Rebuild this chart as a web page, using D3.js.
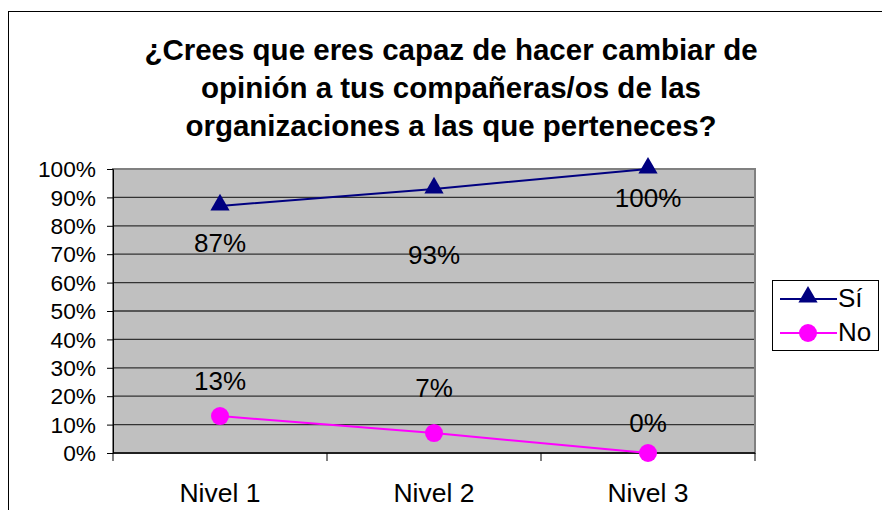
<!DOCTYPE html>
<html><head><meta charset="utf-8">
<script src="https://cdn.jsdelivr.net/npm/d3@7"></script>
<style>body{margin:0;background:#fff}svg{display:block;font-family:"Liberation Sans",Arial,sans-serif}</style>
</head><body><svg id="c" width="882" height="510"></svg>
<script>
const titleLines = ["¿Crees que eres capaz de hacer cambiar de","opinión a tus compañeras/os de las","organizaciones a las que perteneces?"];
const categories = ["Nivel 1","Nivel 2","Nivel 3"];
const siValues = [87, 93, 100];
const noValues = [13, 7, 0];
const yTicks = [0,10,20,30,40,50,60,70,80,90,100];
const seriesNames = ["Sí","No"];

const svg = d3.select("#c");
const L=113, R=755, T=169, B=453;
const FONT = "Liberation Sans, Arial, sans-serif";
// outer border
svg.append("rect").attr("x",8.5).attr("y",11.5).attr("width",900).attr("height",520).attr("fill","#fff").attr("stroke","#000").attr("stroke-width",1);

const x = d3.scaleBand().domain(categories).range([L,R]);
const y = d3.scaleLinear().domain([0,100]).range([B,T]);

// plot area
svg.append("rect").attr("x",L).attr("y",T).attr("width",R-L).attr("height",B-T).attr("fill","#C0C0C0");
svg.append("g").selectAll("line").data(yTicks.filter(d=>d>0)).join("line")
  .attr("x1",L).attr("x2",R).attr("y1",d=>y(d)).attr("y2",d=>y(d)).attr("stroke","#333").attr("stroke-width",1.3);
svg.append("rect").attr("x",L).attr("y",T).attr("width",R-L).attr("height",B-T).attr("fill","none").attr("stroke","#808080").attr("stroke-width",2);

// y axis
const yAxis = svg.append("g").attr("transform",`translate(${L},0)`)
  .call(d3.axisLeft(y).tickValues(yTicks).tickFormat(d=>d+"%").tickSize(6).tickPadding(11));
yAxis.select(".domain").attr("stroke","#000");
yAxis.selectAll("line").attr("stroke","#000");
yAxis.selectAll("text").attr("font-size",22.7).attr("fill","#000").attr("font-family",FONT).attr("dy","0.34em");

// x axis
svg.append("line").attr("x1",L).attr("x2",R).attr("y1",B).attr("y2",B).attr("stroke","#000").attr("stroke-width",1.5);
const bounds = categories.map(c=>x(c)).concat([R]);
svg.append("g").selectAll("line").data(bounds).join("line")
  .attr("x1",d=>d).attr("x2",d=>d).attr("y1",B).attr("y2",B+8).attr("stroke","#000");
svg.append("g").selectAll("text").data(categories).join("text")
  .attr("x",d=>x(d)+x.bandwidth()/2).attr("y",502).attr("text-anchor","middle")
  .attr("font-size",26.5).attr("fill","#000").text(d=>d);

// title
svg.append("g").selectAll("text").data(titleLines).join("text")
  .attr("x",451).attr("y",(d,i)=>60+i*38).attr("text-anchor","middle")
  .attr("font-size",29.5).attr("font-weight","bold").attr("fill","#000").text(d=>d);

const cx = c=>x(c)+x.bandwidth()/2;
const siColor="#000080", noColor="#FF00FF";
const line = d3.line().x(d=>cx(d.c)).y(d=>y(d.v));
const siData = categories.map((c,i)=>({c,v:siValues[i]}));
const noData = categories.map((c,i)=>({c,v:noValues[i]}));

svg.append("path").datum(siData).attr("d",line).attr("fill","none").attr("stroke",siColor).attr("stroke-width",2);
svg.append("path").datum(noData).attr("d",line).attr("fill","none").attr("stroke",noColor).attr("stroke-width",2);

const tri = d3.symbol().type(d3.symbolTriangle).size(160);
svg.append("g").selectAll("path").data(siData).join("path")
  .attr("d",tri).attr("transform",d=>`translate(${cx(d.c)},${y(d.v)-1})`).attr("fill",siColor);
svg.append("g").selectAll("circle").data(noData).join("circle")
  .attr("cx",d=>cx(d.c)).attr("cy",d=>y(d.v)).attr("r",9).attr("fill",noColor);

// data labels (baseline offsets in px from the point, as in the original layout)
const siLabelDy = [46, 75, 38];
const noLabelDy = [-26, -36, -21];
svg.append("g").selectAll("text").data(siData).join("text")
  .attr("x",d=>cx(d.c)).attr("y",(d,i)=>y(d.v)+siLabelDy[i]).attr("text-anchor","middle")
  .attr("font-size",26).attr("fill","#000").text(d=>d.v+"%");
svg.append("g").selectAll("text").data(noData).join("text")
  .attr("x",d=>cx(d.c)).attr("y",(d,i)=>y(d.v)+noLabelDy[i]).attr("text-anchor","middle")
  .attr("font-size",26).attr("fill","#000").text(d=>d.v+"%");

// legend
const lg = svg.append("g");
lg.append("rect").attr("x",772.5).attr("y",280.5).attr("width",106).attr("height",70).attr("fill","#fff").attr("stroke","#000");
const rows=[{n:seriesNames[0],c:siColor,t:"tri"},{n:seriesNames[1],c:noColor,t:"cir"}];
rows.forEach((r,i)=>{
  const yy = 299+i*34;
  lg.append("line").attr("x1",780).attr("x2",837).attr("y1",yy).attr("y2",yy).attr("stroke",r.c).attr("stroke-width",2);
  if(r.t==="tri") lg.append("path").attr("d",tri).attr("transform",`translate(808,${yy-2})`).attr("fill",r.c);
  else lg.append("circle").attr("cx",808).attr("cy",yy).attr("r",9).attr("fill",r.c);
  lg.append("text").attr("x",838).attr("y",yy+8).attr("font-size",26).attr("fill","#000").text(r.n);
});
</script></body></html>
